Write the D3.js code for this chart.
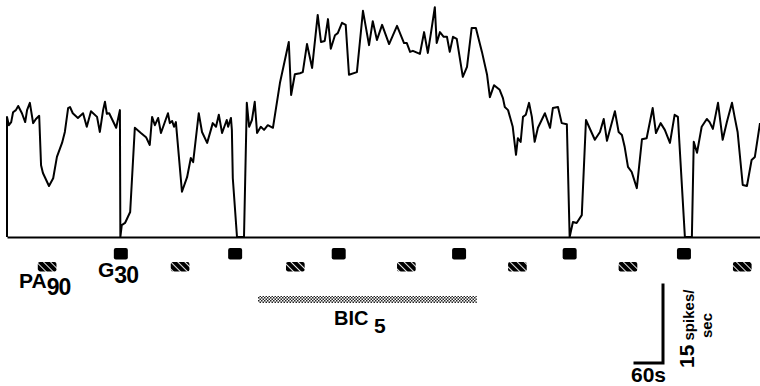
<!DOCTYPE html>
<html>
<head>
<meta charset="utf-8">
<script src="https://cdn.jsdelivr.net/npm/d3@7/dist/d3.min.js"></script>
<style>
  html, body { margin: 0; padding: 0; background: #fff; }
  svg { display: block; }
  text { font-family: "Liberation Sans", Arial, Helvetica, sans-serif; font-weight: bold; fill: #000; }
</style>
</head>
<body>
<svg id="chart" width="760" height="386"></svg>
<script>
// Time (s) and firing rate (spikes/sec) of the trace
const timeS = [0,0,4,9,13,19,24,32,39,43,
  49,56,62,69,73,77,90,99,107,118,
  124,131,135,141,152,163,171,180,193,199,
  206,210,214,219,234,242,243,246,253,264,
  274,287,298,306,311,317,324,330,345,349,
  354,358,362,375,386,394,399,411,418,429,
  437,441,448,454,461,471,474,480,482,484,
  493,508,514,519,525,531,536,544,551,559,
  570,585,604,609,617,628,634,643,654,658,
  666,673,681,688,694,703,709,718,726,733,
  750,763,776,784,793,804,819,836,851,857,
  864,870,885,894,902,909,917,921,928,936,
  943,949,956,964,977,986,996,1005,1018,1029,
  1035,1044,1056,1063,1067,1074,1084,1091,1095,1101,
  1106,1112,1119,1125,1131,1138,1153,1164,1170,1181,
  1189,1200,1206,1213,1221,1232,1241,1260,1271,1279,
  1286,1303,1311,1318,1324,1331,1339,1350,1361,1371,
  1384,1391,1401,1410,1421,1431,1438,1453,1468,1472,
  1479,1489,1500,1506,1513,1524,1534,1543,1554,1560,
  1566,1577,1586,1596,1603,1614];
const rate = [0,23.1,21.5,22.1,24.0,24.4,25.2,23.8,22.1,24.4,
  25.8,21.9,22.7,23.3,13.8,12.3,9.8,11.3,15.4,18.1,
  20.2,24.8,25.0,23.8,22.9,23.8,21.2,24.2,23.1,20.2,
  24.4,26.0,23.7,23.8,21.0,24.4,0,2.3,2.7,4.8,
  21.0,20.0,19.2,17.7,23.1,21.5,22.9,20.0,23.8,21.9,
  22.3,21.2,22.1,8.7,11.5,15.2,14.4,23.8,20.2,18.1,
  20.6,21.9,21.2,23.5,20.0,22.5,21.2,22.9,20.6,11.3,
  0,0,25.8,21.2,22.5,26.0,20.0,21.2,20.6,21.5,
  21.0,29.6,37.5,27.3,31.3,31.5,31.7,37.1,32.5,36.0,
  42.7,37.5,37.7,41.9,36.2,38.8,39.2,41.2,40.8,31.2,
  31.7,43.5,36.9,41.5,37.9,40.8,37.1,40.6,37.3,37.3,
  35.6,35.8,35.2,39.4,35.4,39.4,44.2,37.3,39.4,38.5,
  38.5,35.6,38.5,38.1,30.8,32.7,40.2,40.2,35.6,31.2,
  26.9,29.2,28.3,26.7,25.0,24.4,21.2,15.8,19.0,18.3,
  23.1,23.5,25.8,23.1,18.3,21.0,23.8,21.0,24.8,25.0,
  21.9,21.7,0,2.9,2.7,4.2,22.5,18.7,20.2,22.7,
  18.5,24.2,20.2,19.6,17.3,13.5,12.5,9.4,18.8,19.0,
  24.8,20.0,21.9,20.6,18.1,23.5,23.1,0,0,18.3,
  16.2,21.2,22.7,22.1,20.8,25.8,18.7,22.1,25.8,22.9,
  20.2,10.0,9.8,14.8,15.4,21.9];

// Stimulus applications (onset, s)
const paOnsets = [66, 351, 598, 836, 1074, 1311, 1556];   // PA 90, hatched
const paDuration = 40;
const gOnsets = [229, 474, 696, 954, 1191, 1436];          // G 30, solid
const gDuration = 30;
const bicPeriod = [538, 1007];                             // BIC 5
const scaleBarTime = 60;     // s
const scaleBarRate = 15;     // spikes/sec

const svg = d3.select("#chart");
const x = d3.scaleLinear().domain([0, 1614]).range([7, 760]);
const y = d3.scaleLinear().domain([0, 15]).range([237, 159]);

const defs = svg.append("defs");
const hatch = defs.append("pattern")
  .attr("id", "hatch").attr("patternUnits", "userSpaceOnUse")
  .attr("width", 5).attr("height", 5)
  .attr("patternTransform", "rotate(-45)");
hatch.append("rect").attr("width", 5).attr("height", 5).attr("fill", "#000");
hatch.append("rect").attr("x", 0).attr("width", 0.9).attr("height", 5).attr("fill", "#fff");

const checker = defs.append("pattern")
  .attr("id", "checker").attr("patternUnits", "userSpaceOnUse")
  .attr("width", 3).attr("height", 3);
checker.append("rect").attr("width", 3).attr("height", 3).attr("fill", "#fff");
checker.append("rect").attr("x", 0).attr("y", 0).attr("width", 1.5).attr("height", 1.5).attr("fill", "#222");
checker.append("rect").attr("x", 1.5).attr("y", 1.5).attr("width", 1.5).attr("height", 1.5).attr("fill", "#222");

// baseline (zero rate)
const axis = d3.axisBottom(x).tickValues([]).tickSizeOuter(0);
svg.append("g").attr("transform", `translate(0,${y(0)})`).call(axis)
  .select(".domain").attr("stroke", "#000").attr("stroke-width", 2);

// trace
const pts = timeS.map((t, i) => [t, rate[i]]);
svg.append("path").datum(pts)
  .attr("fill", "none").attr("stroke", "#000").attr("stroke-width", 2)
  .attr("stroke-linejoin", "round")
  .attr("d", d3.line().x(d => x(d[0])).y(d => y(d[1])));

// PA markers (hatched)
svg.append("g").selectAll("rect").data(paOnsets).join("rect")
  .attr("x", d => x(d)).attr("width", d => x(d + paDuration) - x(d))
  .attr("y", 262).attr("height", 9.5).attr("rx", 2)
  .attr("fill", "url(#hatch)");

// G markers (solid)
svg.append("g").selectAll("rect").data(gOnsets).join("rect")
  .attr("x", d => x(d)).attr("width", d => x(d + gDuration) - x(d))
  .attr("y", 248).attr("height", 11.5).attr("rx", 2)
  .attr("fill", "#000");

// BIC bar
svg.append("rect")
  .attr("x", x(bicPeriod[0])).attr("width", x(bicPeriod[1]) - x(bicPeriod[0]))
  .attr("y", 296).attr("height", 7).attr("fill", "url(#checker)");

// labels
const pa = svg.append("text").attr("x", 19).attr("y", 288).attr("font-size", 21);
pa.append("tspan").text("PA");
pa.append("tspan").attr("dy", 7).attr("font-size", 23).attr("letter-spacing", -0.8).text("90");

const g = svg.append("text").attr("x", 98).attr("y", 277).attr("font-size", 21);
g.append("tspan").text("G");
g.append("tspan").attr("dy", 6).attr("font-size", 23).attr("letter-spacing", -0.8).text("30");

const bic = svg.append("text").attr("x", 334).attr("y", 325).attr("font-size", 20);
bic.append("tspan").text("BIC");
bic.append("tspan").attr("x", 374).attr("dy", 8).attr("font-size", 21).text("5");

// scale bar
const sbX = 663, sbY = 363;
const sbLenX = x(scaleBarTime) - x(0);
const sbLenY = y(0) - y(scaleBarRate);
svg.append("path")
  .attr("d", `M${sbX - sbLenX},${sbY}H${sbX}V${sbY - sbLenY}`)
  .attr("fill", "none").attr("stroke", "#000").attr("stroke-width", 3)
  .attr("stroke-linecap", "square");

svg.append("text").attr("x", 631).attr("y", 382).attr("font-size", 21).text("60s");

const rot = svg.append("text").attr("transform", "translate(694,368) rotate(-90)").attr("font-size", 21);
rot.append("tspan").text("15");
rot.append("tspan").attr("font-size", 15).text(" spikes/");
svg.append("text").attr("transform", "translate(712,338) rotate(-90)").attr("font-size", 15).text("sec");
</script>
</body>
</html>
